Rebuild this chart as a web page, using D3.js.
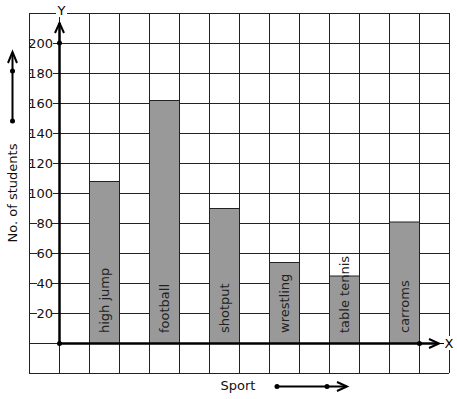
<!DOCTYPE html>
<html>
<head>
<meta charset="utf-8">
<script src="https://d3js.org/d3.v7.min.js"></script>
<style>
  body { margin: 0; background: #fff; }
  text { font-family: "DejaVu Sans", sans-serif; }
</style>
</head>
<body>
<div id="chart"></div>
<script>
// data
const sports = ['high jump', 'football', 'shotput', 'wrestling', 'table tennis', 'carroms'];
const students = [108, 162, 90, 54, 45, 81];
const yTicks = [20, 40, 60, 80, 100, 120, 140, 160, 180, 200];
const gridRows = d3.range(-20, 221, 20);

const W = 457, H = 399;

const svg = d3.select('#chart').append('svg')
    .attr('width', W)
    .attr('height', H);

// scales
const x = d3.scaleBand().domain(sports).range([59, 449]).paddingInner(0.5).paddingOuter(0.5);
const y = d3.scaleLinear().domain([0, 200]).range([343, 43]);
const gx = d3.scaleLinear().domain([0, 14]).range([29, 449]);

// graph paper grid
const grid = svg.append('g').attr('stroke', '#222').attr('stroke-width', 1);
grid.selectAll('.h').data(gridRows).enter().append('line')
    .attr('x1', gx(0)).attr('x2', gx(14))
    .attr('y1', d => Math.round(y(d)) + 0.5).attr('y2', d => Math.round(y(d)) + 0.5);
grid.selectAll('.v').data(d3.range(0, 15)).enter().append('line')
    .attr('y1', y(220)).attr('y2', y(-20))
    .attr('x1', d => Math.round(gx(d)) + 0.5).attr('x2', d => Math.round(gx(d)) + 0.5);

// bars
svg.selectAll('.bar').data(sports).enter().append('rect')
    .attr('class', 'bar')
    .attr('x', d => x(d) + 0.5)
    .attr('y', (d, i) => y(students[i]) + 0.5)
    .attr('width', x.bandwidth())
    .attr('height', (d, i) => y(0) - y(students[i]))
    .attr('fill', '#999')
    .attr('stroke', '#222')
    .attr('stroke-width', 1);

// bar labels, written upward
svg.selectAll('.blabel').data(sports).enter().append('text')
    .attr('transform', d => `translate(${x(d) + x.bandwidth() / 2 + 5},${y(0) - 10}) rotate(-90)`)
    .attr('font-size', 13)
    .attr('fill', '#222')
    .text(d => d);

// y tick labels with white backing over the grid
const tk = svg.append('g');
tk.selectAll('rect').data(yTicks).enter().append('rect')
    .attr('x', d => d >= 100 ? 31 : 37)
    .attr('y', d => y(d) - 7)
    .attr('width', d => d >= 100 ? 22 : 15)
    .attr('height', 14)
    .attr('fill', '#fff');
tk.selectAll('text').data(yTicks).enter().append('text')
    .attr('x', 53)
    .attr('y', d => y(d) + 5)
    .attr('text-anchor', 'end')
    .attr('font-size', 13)
    .attr('fill', '#111')
    .text(d => d);

// axes
const ax = svg.append('g').attr('stroke', '#000').attr('fill', 'none');
ax.append('line').attr('x1', 59.5).attr('x2', 59.5).attr('y1', y(0)).attr('y2', 23).attr('stroke-width', 2.5);
ax.append('path').attr('d', 'M55,33 L59.5,23 L64,33').attr('stroke-width', 2);
ax.append('line').attr('x1', 59).attr('x2', 438).attr('y1', y(0) + 0.5).attr('y2', y(0) + 0.5).attr('stroke-width', 2.5);
ax.append('path').attr('d', `M429,${y(0) - 4} L439,${y(0) + 0.5} L429,${y(0) + 5}`).attr('stroke-width', 2);
ax.append('line').attr('x1', 438).attr('x2', 444).attr('y1', y(0) + 0.5).attr('y2', y(0) + 0.5).attr('stroke-width', 1);

svg.selectAll('.dot').data([[59.5, y(0) + 0.5], [59.5, y(200)], [419.5, y(0) + 0.5]]).enter().append('circle')
    .attr('cx', d => d[0]).attr('cy', d => d[1]).attr('r', 2.5).attr('fill', '#000');

// axis letters
svg.append('rect').attr('x', 56).attr('y', 3).attr('width', 11).attr('height', 14).attr('fill', '#fff');
svg.append('text').attr('x', 61.5).attr('y', 15).attr('text-anchor', 'middle').attr('font-size', 13).text('Y');
svg.append('rect').attr('x', 444).attr('y', y(0) - 7).attr('width', 11).attr('height', 14).attr('fill', '#fff');
svg.append('text').attr('x', 449).attr('y', y(0) + 5).attr('text-anchor', 'middle').attr('font-size', 13).text('X');

// axis titles with their arrows
svg.append('text')
    .attr('transform', `translate(17,${193}) rotate(-90)`)
    .attr('text-anchor', 'middle')
    .attr('font-size', 13)
    .attr('fill', '#111')
    .text('No. of students');
const ya = svg.append('g').attr('stroke', '#000').attr('fill', 'none').attr('stroke-width', 2);
ya.append('line').attr('x1', 12.5).attr('x2', 12.5).attr('y1', 121).attr('y2', 53);
ya.append('path').attr('d', 'M8,63 L12.5,52 L17,63');
svg.selectAll('.ydot').data([71, 121]).enter().append('circle')
    .attr('cx', 12.5).attr('cy', d => d).attr('r', 2.5).attr('fill', '#000');

svg.append('text')
    .attr('x', 238).attr('y', 390)
    .attr('text-anchor', 'middle')
    .attr('font-size', 13)
    .attr('fill', '#111')
    .text('Sport');
const xa = svg.append('g').attr('stroke', '#000').attr('fill', 'none').attr('stroke-width', 2);
xa.append('line').attr('x1', 277).attr('x2', 346).attr('y1', 386.5).attr('y2', 386.5);
xa.append('path').attr('d', 'M337,382 L347,386.5 L337,391');
svg.selectAll('.xdot').data([277, 327]).enter().append('circle')
    .attr('cx', d => d).attr('cy', 386.5).attr('r', 2.5).attr('fill', '#000');
</script>
</body>
</html>
